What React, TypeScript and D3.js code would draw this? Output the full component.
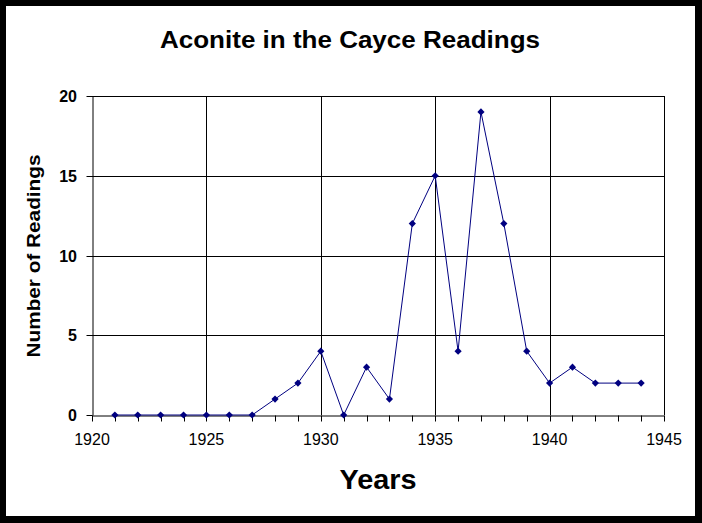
import React, { useRef, useEffect } from 'react';
import * as d3 from 'd3';

const years = [1921, 1922, 1923, 1924, 1925, 1926, 1927, 1928, 1929, 1930, 1931, 1932,
  1933, 1934, 1935, 1936, 1937, 1938, 1939, 1940, 1941, 1942, 1943, 1944];
const readings = [0, 0, 0, 0, 0, 0, 0, 1, 2, 4, 0, 3, 1, 12, 15, 4, 19, 12, 4, 2, 3, 2, 2, 2];
const xTicks = [1920, 1925, 1930, 1935, 1940, 1945];
const yTicks = [0, 5, 10, 15, 20];

const W = 702;
const H = 523;
const margin = { top: 96, right: 38, bottom: 108, left: 92 };
const font = 'Arial, "Liberation Sans", sans-serif';

export default function App() {
  const gRef = useRef<SVGGElement>(null);

  useEffect(() => {
    if (!gRef.current) return;
    const root = d3.select(gRef.current);
    root.selectAll('*').remove();

    const innerW = W - margin.left - margin.right;
    const innerH = H - margin.top - margin.bottom;

    root.append('text')
      .attr('x', 350).attr('y', 48)
      .attr('text-anchor', 'middle')
      .attr('font-family', font).attr('font-weight', 'bold').attr('font-size', 23)
      .attr('textLength', 380).attr('lengthAdjust', 'spacingAndGlyphs')
      .text('Aconite in the Cayce Readings');

    const x = d3.scaleLinear().domain([1920, 1945]).range([0, innerW]);
    const y = d3.scaleLinear().domain([0, 20]).range([innerH, 0]);

    const g = root.append('g').attr('transform', `translate(${margin.left},${margin.top})`);

    // grid
    g.append('g')
      .selectAll('line')
      .data(yTicks.slice(1))
      .enter().append('line')
      .attr('x1', 0).attr('x2', innerW)
      .attr('y1', d => Math.round(y(d)) + 0.5).attr('y2', d => Math.round(y(d)) + 0.5)
      .attr('stroke', '#000');
    g.append('g')
      .selectAll('line')
      .data(xTicks.slice(1))
      .enter().append('line')
      .attr('x1', d => Math.round(x(d)) + 0.5).attr('x2', d => Math.round(x(d)) + 0.5)
      .attr('y1', 0).attr('y2', innerH)
      .attr('stroke', '#000');

    // x axis
    const xAxis = g.append('g')
      .attr('transform', `translate(0,${innerH + 0.5})`)
      .call(d3.axisBottom(x).tickValues(d3.range(1920, 1946)).tickSize(6).tickSizeOuter(0).tickFormat(() => ''));
    xAxis.select('.domain').attr('stroke', '#000');
    xAxis.selectAll('.tick line').attr('stroke', '#000');
    xAxis.selectAll('.tick').attr('transform', (d: any) => `translate(${Math.round(x(d)) + 0.5},0)`);

    g.append('g')
      .selectAll('text')
      .data(xTicks)
      .enter().append('text')
      .attr('x', d => x(d)).attr('y', innerH + 30)
      .attr('text-anchor', 'middle')
      .attr('font-family', font).attr('font-size', 16)
      .text(d => d);

    // y axis
    const yAxis = g.append('g')
      .attr('transform', 'translate(0.5,0)')
      .call(d3.axisLeft(y).tickValues(yTicks).tickSize(6).tickSizeOuter(0).tickFormat(() => ''));
    yAxis.select('.domain').attr('stroke', '#000');
    yAxis.selectAll('.tick line').attr('stroke', '#000');
    yAxis.selectAll('.tick').attr('transform', (d: any) => `translate(0,${Math.round(y(d)) + 0.5})`);

    g.append('g')
      .selectAll('text')
      .data(yTicks)
      .enter().append('text')
      .attr('x', -15).attr('y', d => y(d) + 6)
      .attr('text-anchor', 'end')
      .attr('font-family', font).attr('font-weight', 'bold').attr('font-size', 16)
      .text(d => d);

    // series
    const pts = years.map((yr, i) => [yr, readings[i]] as [number, number]);
    const line = d3.line<[number, number]>().x(d => x(d[0])).y(d => y(d[1]));
    g.append('path')
      .datum(pts)
      .attr('d', line)
      .attr('fill', 'none')
      .attr('stroke', '#000080')
      .attr('stroke-width', 1);

    // diamond markers: squares turned 45 degrees
    g.append('g')
      .selectAll('path')
      .data(pts)
      .enter().append('path')
      .attr('d', d3.symbol(d3.symbolSquare, 26))
      .attr('transform', d => `translate(${x(d[0])},${y(d[1])}) rotate(45)`)
      .attr('fill', '#000080');

    // axis titles
    root.append('text')
      .attr('transform', `translate(40,256) rotate(-90)`)
      .attr('text-anchor', 'middle')
      .attr('font-family', font).attr('font-weight', 'bold').attr('font-size', 19)
      .attr('textLength', 203).attr('lengthAdjust', 'spacingAndGlyphs')
      .text('Number of Readings');

    root.append('text')
      .attr('x', 378).attr('y', 489)
      .attr('text-anchor', 'middle')
      .attr('font-family', font).attr('font-weight', 'bold').attr('font-size', 27)
      .attr('textLength', 77).attr('lengthAdjust', 'spacingAndGlyphs')
      .text('Years');
  }, []);

  return (
    <svg width={W} height={H} style={{ display: 'block', position: 'absolute', left: 0, top: 0, background: '#000' }}>
      <rect x={0} y={0} width={W} height={H} fill="#000" />
      <rect x={6} y={6} width={689} height={510} fill="#fff" />
      <g ref={gRef} />
    </svg>
  );
}
